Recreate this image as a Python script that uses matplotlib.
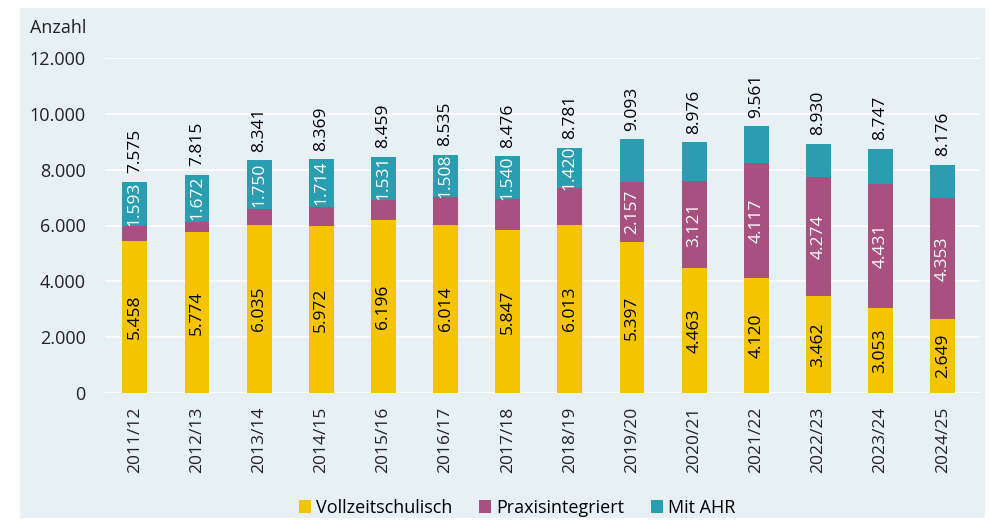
import matplotlib.pyplot as plt
from matplotlib.patches import Rectangle
import numpy as np

plt.rcParams['font.family'] = ['Open Sans', 'DejaVu Sans']

years = ["2011/12", "2012/13", "2013/14", "2014/15", "2015/16", "2016/17", "2017/18",
         "2018/19", "2019/20", "2020/21", "2021/22", "2022/23", "2023/24", "2024/25"]
vollzeit = [5458, 5774, 6035, 5972, 6196, 6014, 5847, 6013, 5397, 4463, 4120, 3462, 3053, 2649]
praxis = [524, 369, 556, 683, 732, 1013, 1089, 1348, 2157, 3121, 4117, 4274, 4431, 4353]
ahr = [1593, 1672, 1750, 1714, 1531, 1508, 1540, 1420, 1539, 1392, 1324, 1194, 1263, 1174]
totals = [7575, 7815, 8341, 8369, 8459, 8535, 8476, 8781, 9093, 8976, 9561, 8930, 8747, 8176]

# which segments carry a value label in the original
show_ahr = [True] * 8 + [False] * 6
show_praxis = [False] * 8 + [True] * 6

c_voll = "#f5c400"
c_prax = "#a8507f"
c_ahr = "#2a9db1"
bg = "#e6f0f5"

def de(n):
    return f"{n:,}".replace(",", ".")

fig = plt.figure(figsize=(9.89, 5.23), dpi=100)
fig.patches.append(Rectangle((20 / 989, 5 / 523), 965 / 989, 510 / 523,
                             transform=fig.transFigure, facecolor=bg, edgecolor="none", zorder=-1))

ax = fig.add_axes([105 / 989, 130 / 523, 875 / 989, 335 / 523])
ax.set_zorder(1)
ax.patch.set_alpha(0)

x = np.arange(len(years))
w = 0.40
voll = np.array(vollzeit)
prax = np.array(praxis)
b1 = ax.bar(x, voll, w, color=c_voll, label="Vollzeitschulisch", zorder=3)
b2 = ax.bar(x, prax, w, bottom=voll, color=c_prax, label="Praxisintegriert", zorder=3)
b3 = ax.bar(x, ahr, w, bottom=voll + prax, color=c_ahr, label="Mit AHR", zorder=3)

fs = 12.5
for i in x:
    ax.text(i, vollzeit[i] / 2, de(vollzeit[i]), rotation=90, ha="center", va="center",
            fontsize=fs, color="black", zorder=4)
    if show_praxis[i]:
        ax.text(i, vollzeit[i] + praxis[i] / 2, de(praxis[i]), rotation=90, ha="center",
                va="center", fontsize=fs, color="white", zorder=4)
    if show_ahr[i]:
        ax.text(i, vollzeit[i] + praxis[i] + ahr[i] / 2, de(ahr[i]), rotation=90, ha="center",
                va="center", fontsize=fs, color="white", zorder=4)
    ax.text(i, totals[i] + 300, de(totals[i]), rotation=90, ha="center", va="bottom",
            fontsize=fs, color="black", zorder=4)

ax.set_ylim(0, 12000)
ax.set_xlim(-0.48, 13.6)
ax.set_yticks(range(0, 12001, 2000))
ax.set_yticklabels([de(v) for v in range(0, 12001, 2000)], fontsize=13, color="#222222")
ax.set_xticks(x)
ax.set_xticklabels(years, rotation=90, fontsize=12.5, color="#222222")
ax.tick_params(axis="both", length=0)
ax.tick_params(axis="y", pad=14)
ax.tick_params(axis="x", pad=10)
ax.grid(axis="y", color="white", linewidth=1.3, zorder=1)
for s in ax.spines.values():
    s.set_visible(False)

fig.text(30 / 989, 1 - 28 / 523, "Anzahl", fontsize=13, va="center", ha="left", color="#222222")

fig.legend(handles=[b1, b2, b3], loc="center", bbox_to_anchor=(517 / 989, 1 - 508 / 523), ncol=3,
           frameon=False, fontsize=13, handlelength=0.67, handleheight=0.7,
           handletextpad=0.25, columnspacing=1.5)

fig.savefig("out.png", dpi=100, facecolor="white")
